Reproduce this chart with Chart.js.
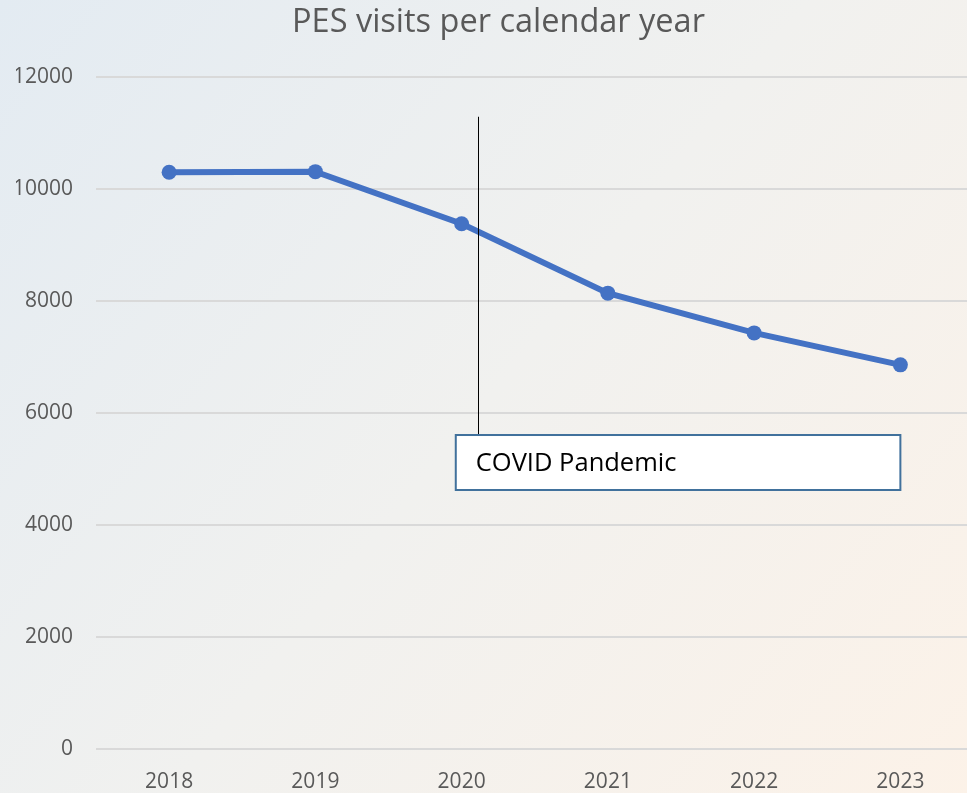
<!DOCTYPE html>
<html>
<head>
<meta charset="utf-8">
<script src="https://cdn.jsdelivr.net/npm/chart.js@4.4.0/dist/chart.umd.min.js"></script>
<style>
  html, body { margin:0; padding:0; overflow:hidden; background:#F1F1EF; }
  #wrap { width:981px; height:793px; overflow:hidden; }
  #myChart { width:981px; height:793px; display:block; }
</style>
</head>
<body>
<div id="wrap"><canvas id="myChart" width="981" height="793"></canvas></div>
<script>
// dados do gráfico
const anos = ['2018','2019','2020','2021','2022','2023'];
const visitas = [10300, 10310, 9380, 8140, 7430, 6860];
const yTicks = [0, 2000, 4000, 6000, 8000, 10000, 12000];

// anotação "COVID Pandemic" (em unidades do gráfico)
const notaTexto = 'COVID Pandemic';
const notaLinhaX = 2.115;
const notaLinhaTopo = 11290;
const notaCaixa = { x0: 1.96, x1: 5, yTopo: 5607, yBase: 4625 };

const fundo = {
  id: 'fundo',
  beforeDraw(chart){
    const c = chart.ctx;
    const g = c.createLinearGradient(0, 0, chart.width, chart.height);
    g.addColorStop(0, '#E3EBF2');
    g.addColorStop(0.5, '#F1F1EF');
    g.addColorStop(1, '#FCF2E8');
    c.save();
    c.fillStyle = g;
    c.fillRect(0, 0, chart.width, chart.height);
    c.restore();
  }
};

const anotacao = {
  id: 'anotacao',
  afterDatasetsDraw(chart){
    const c = chart.ctx;
    const x = chart.scales.x, y = chart.scales.y;
    const lx = Math.round(x.getPixelForValue(notaLinhaX)) + 0.5;
    const bx0 = x.getPixelForValue(notaCaixa.x0);
    const bx1 = x.getPixelForValue(notaCaixa.x1);
    const by0 = y.getPixelForValue(notaCaixa.yTopo);
    const by1 = y.getPixelForValue(notaCaixa.yBase);
    c.save();
    c.strokeStyle = '#000000';
    c.lineWidth = 1;
    c.beginPath();
    c.moveTo(lx, y.getPixelForValue(notaLinhaTopo));
    c.lineTo(lx, by0);
    c.stroke();
    c.fillStyle = '#FFFFFF';
    c.fillRect(bx0, by0, bx1 - bx0, by1 - by0);
    c.strokeStyle = '#41719C';
    c.lineWidth = 2;
    c.strokeRect(bx0, by0, bx1 - bx0, by1 - by0);
    c.fillStyle = '#000000';
    c.font = '25.5px "Open Sans"';
    c.textBaseline = 'middle';
    c.fillText(notaTexto, bx0 + 20, (by0 + by1) / 2 + 1);
    c.restore();
  }
};

new Chart(document.getElementById('myChart').getContext('2d'), {
  type: 'line',
  data: {
    labels: anos,
    datasets: [{
      data: visitas,
      borderColor: '#4472C4',
      backgroundColor: '#4472C4',
      borderWidth: 6,
      pointRadius: 7.5,
      pointBorderWidth: 0,
      tension: 0
    }]
  },
  options: {
    responsive: false,
    animation: false,
    layout: { padding: { left: 16, right: 0, top: 0, bottom: 0 } },
    plugins: {
      legend: { display: false },
      tooltip: { enabled: false },
      title: {
        display: true,
        text: 'PES visits per calendar year',
        color: '#595959',
        font: { family: 'Open Sans', size: 32.5, weight: 'normal' },
        padding: { top: 3, bottom: 35 }
      }
    },
    scales: {
      x: {
        offset: true,
        grid: { display: false, drawTicks: false },
        border: { display: false },
        ticks: { color: '#595959', font: { family: 'Open Sans', size: 21 }, padding: 20 },
        afterFit: s => { s.height = 44; }
      },
      y: {
        min: 0, max: 12000,
        afterBuildTicks: s => { s.ticks = yTicks.map(v => ({ value: v })); },
        grid: { color: '#D9D9D9', lineWidth: 2, drawTicks: false },
        border: { display: false },
        ticks: {
          color: '#595959', font: { family: 'Open Sans', size: 21 }, padding: 23,
          callback: v => String(v)
        },
        afterFit: s => { s.width = 80; }
      }
    }
  },
  plugins: [fundo, anotacao]
});
</script>
</body>
</html>
